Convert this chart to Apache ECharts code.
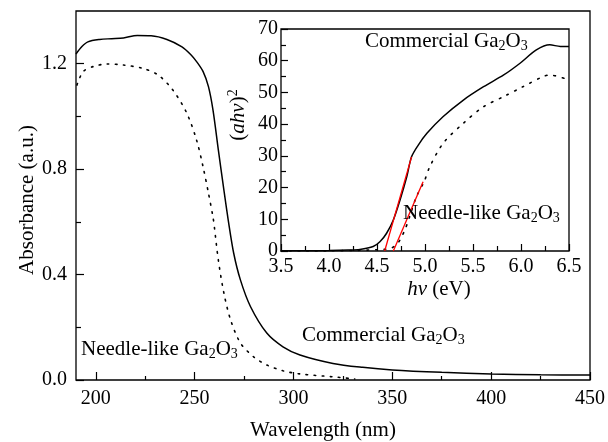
<!DOCTYPE html>
<html><head><meta charset="utf-8">
<script src="https://cdn.jsdelivr.net/npm/echarts@6/dist/echarts.min.js"></script>
<style>html,body{margin:0;padding:0;background:#fff}#c{width:608px;height:442px}</style>
</head><body><div id="c"></div>
<script>
// ---- Main plot data (Absorbance vs wavelength) ----
const commercialWavelength = [190,193,196,202,208,214,221,228,236,243.6,248,251,254.3,257,259.3,262,264.8,267,269.8,273.2,278.3,286.5,294.7,303.3,320,335,350,375,400,425,450];
const commercialAbsorbance = [1.237,1.265,1.283,1.292,1.295,1.298,1.307,1.306,1.292,1.264,1.235,1.208,1.17,1.113,1.024,0.873,0.721,0.607,0.48,0.379,0.278,0.178,0.126,0.095,0.063,0.048,0.038,0.029,0.023,0.020,0.019];
const needleWavelength = [190.5,193.6,198.6,205.6,214,224,231.6,239,246,251,254.3,257,259.3,260,262,264.8,268.2,273.2,280,286.5,294.7,303.3,320,331];
const needleAbsorbance = [1.119,1.17,1.189,1.199,1.195,1.182,1.157,1.10,1.013,0.91,0.808,0.709,0.618,0.58,0.455,0.33,0.228,0.14,0.087,0.057,0.035,0.023,0.012,0.004];
const mainXMajorTicks = [200,250,300,350,400,450];
const mainXMinorTicks = [225,275,325,375,425];
const mainYMajorTicks = [0,0.4,0.8,1.2];
const mainYMinorTicks = [0.2,0.6,1.0];

// ---- Inset data ((ahv)^2 vs hv) ----
const commercialEnergy = [3.5,3.8,4.0,4.2,4.32,4.46,4.53,4.6,4.67,4.74,4.81,4.86,4.93,5.02,5.19,5.4,5.61,5.82,5.99,6.16,6.3,6.41,6.5];
const commercialAhv2 = [0.1,0.1,0.15,0.3,0.5,1.4,2.9,5.6,9.8,16.1,23.4,29.7,33.4,37.1,42.4,47.6,51.8,55.5,59.2,63.4,65.0,64.5,64.5];
const needleEnergy = [3.5,4.0,4.3,4.5,4.57,4.64,4.7,4.74,4.79,4.84,4.91,4.99,5.05,5.19,5.4,5.61,5.82,6.02,6.23,6.3,6.5];
const needleAhv2 = [0,0.05,0.2,0.4,0.5,0.8,1.9,3.5,6.6,10.8,17.1,21.8,26.6,34,40.3,45.5,48.7,51.8,55,55.5,53.9];
const fitCommercialEnergy = [4.58,4.86];
const fitCommercialAhv2 = [0,29.7];
const fitNeedleEnergy = [4.67,4.98];
const fitNeedleAhv2 = [0,21.8];
const insetXMajorTicks = [3.5,4.0,4.5,5.0,5.5,6.0,6.5];
const insetXMinorTicks = [3.75,4.25,4.75,5.25,5.75,6.25];
const insetYMajorTicks = [0,10,20,30,40,50,60,70];
const insetYMinorTicks = [5,15,25,35,45,55,65];

const F = '"Liberation Serif", "Times New Roman", serif';
const pair = (xs, ys) => xs.map((x, i) => [x, ys[i]]);
const tickStyle = {color:'#000', width:1.2};
const lbl = (extra) => Object.assign({color:'#000', fontFamily:F, fontSize:20}, extra);

function valAxis(grid, pos, min, max, major, minor, majorLen, minorLen, labelOpts, fmt) {
  return [
    {gridIndex:grid, position:pos, type:'value', min:min, max:max, axisLine:{show:false}, splitLine:{show:false},
     axisTick:{inside:true, length:majorLen, customValues:major, lineStyle:tickStyle},
     axisLabel:lbl(Object.assign({customValues:major, formatter:fmt}, labelOpts))},
    {gridIndex:grid, position:pos, type:'value', min:min, max:max, axisLine:{show:false}, splitLine:{show:false},
     axisTick:{inside:true, length:minorLen, customValues:minor, lineStyle:tickStyle},
     axisLabel:{show:false}}
  ];
}

const chart = echarts.init(document.getElementById('c'));
const option = {
  animation:false,
  backgroundColor:'#fff',
  grid:[
    {left:76, right:18, top:11, bottom:62, show:true, borderColor:'#000', borderWidth:1.3, backgroundColor:'transparent'},
    {left:281, right:39, top:29, bottom:191, show:true, borderColor:'#000', borderWidth:1.3, backgroundColor:'#fff'}
  ],
  xAxis:[].concat(
    valAxis(0,'bottom',190,450,mainXMajorTicks,mainXMinorTicks,8,4,{margin:9}, v => String(v)),
    valAxis(1,'bottom',3.5,6.5,insetXMajorTicks,insetXMinorTicks,7,5,{margin:6}, v => v.toFixed(1))
  ),
  yAxis:[].concat(
    valAxis(0,'left',0,1.4,mainYMajorTicks,mainYMinorTicks,8,5,{margin:9}, v => v.toFixed(1)),
    valAxis(1,'left',0,70,insetYMajorTicks,insetYMinorTicks,7,5,{margin:3}, v => String(v))
  ),
  series:[
    {type:'line', xAxisIndex:0, yAxisIndex:0, data:pair(commercialWavelength, commercialAbsorbance), showSymbol:false, smooth:0.3,
     lineStyle:{color:'#000', width:1.5}},
    {type:'line', xAxisIndex:0, yAxisIndex:0, data:pair(needleWavelength, needleAbsorbance), showSymbol:false, smooth:0.3,
     lineStyle:{color:'#000', width:1.6, type:[1.6,6.5], cap:'round'}},
    {type:'line', xAxisIndex:2, yAxisIndex:2, data:pair(commercialEnergy, commercialAhv2), showSymbol:false, smooth:0.3,
     lineStyle:{color:'#000', width:1.5}, z:5},
    {type:'line', xAxisIndex:2, yAxisIndex:2, data:pair(needleEnergy, needleAhv2), showSymbol:false, smooth:0.3,
     lineStyle:{color:'#000', width:1.6, type:[1.6,7], cap:'round'}, z:5},
    {type:'line', xAxisIndex:2, yAxisIndex:2, data:pair(fitCommercialEnergy, fitCommercialAhv2), showSymbol:false,
     lineStyle:{color:'#ff0000', width:1.3}, z:6},
    {type:'line', xAxisIndex:2, yAxisIndex:2, data:pair(fitNeedleEnergy, fitNeedleAhv2), showSymbol:false,
     lineStyle:{color:'#ff0000', width:1.3}, z:6}
  ],
  graphic:[]
};

const richBase = {
  sub:{fontFamily:F, fontSize:14, lineHeight:12, verticalAlign:'bottom'},
  sup:{fontFamily:F, fontSize:14, lineHeight:12, verticalAlign:'top'},
  i:{fontFamily:F, fontSize:21, fontStyle:'italic', lineHeight:24}
};
function txt(text, x, y, opts) {
  return Object.assign({type:'text', x:x, y:y, z:100, style:{
    text:text, fill:'#000', font:'21px ' + F, fontSize:21, fontFamily:F, lineHeight:24,
    align:'left', verticalAlign:'bottom', rich:richBase}}, opts || {});
}
option.graphic = [
  txt('Commercial Ga{sub|2}O{sub|3}', 302, 347),
  txt('Needle-like Ga{sub|2}O{sub|3}', 81, 361),
  txt('Commercial Ga{sub|2}O{sub|3}', 365, 53),
  txt('Needle-like Ga{sub|2}O{sub|3}', 403, 225),
  txt('Wavelength (nm)', 323, 430),
  txt('{i|hv} (eV)', 439, 289),
  txt('Absorbance (a.u.)', 27, 200, {rotation:Math.PI/2}),
  txt('({i|ahv}){sup|2}', 238, 115, {rotation:Math.PI/2})
];
['Wavelength (nm)','{i|hv} (eV)','Absorbance (a.u.)','({i|ahv}){sup|2}'].forEach((t) => {
  const g = option.graphic.find(e => e.style.text === t);
  g.style.align = 'center'; g.style.verticalAlign = 'middle';
});
chart.setOption(option);
</script></body></html>
